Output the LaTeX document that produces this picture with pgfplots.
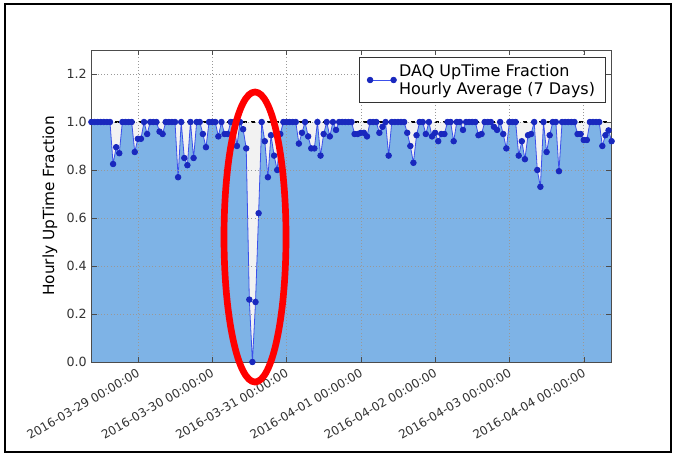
\documentclass[border=0pt]{standalone}
\usepackage{fontspec}
\setmainfont{DejaVu Sans}
\usepackage{pgfplots}
\pgfplotsset{compat=1.18}
\usepackage{pgfplotstable}

\definecolor{fillblue}{RGB}{126,179,230}
\definecolor{lineblue}{RGB}{60,80,235}
\definecolor{markblue}{RGB}{25,40,190}

% hours since 2016-03-28 09:00, hourly uptime fraction
\pgfplotstableread{
h v
0 1
1 1
2 1
3 1
4 1
5 1
6 1
7 0.825
8 0.895
9 0.87
10 1
11 1
12 1
13 1
14 0.875
15 0.93
16 0.93
17 1
18 0.95
19 1
20 1
21 1
22 0.96
23 0.95
24 1
25 1
26 1
27 1
28 0.77
29 1
30 0.85
31 0.82
32 1
33 0.85
34 1
35 1
36 0.95
37 0.895
38 1
39 1
40 1
41 0.94
42 1
43 0.95
44 0.95
45 1
46 1
47 0.9
48 1
49 0.97
50 0.89
51 0.26
52 0.0
53 0.25
54 0.62
55 1
56 0.92
57 0.77
58 0.945
59 0.86
60 0.80
61 0.95
62 1
63 1
64 1
65 1
66 1
67 0.91
68 0.955
69 1
70 0.94
71 0.89
72 0.89
73 1
74 0.86
75 0.95
76 1
77 0.94
78 1
79 0.967
80 1
81 1
82 1
83 1
84 1
85 0.95
86 0.95
87 0.955
88 0.955
89 0.94
90 1
91 1
92 1
93 0.955
94 0.98
95 1
96 0.86
97 1
98 1
99 1
100 1
101 1
102 0.955
103 0.90
104 0.83
105 0.945
106 1
107 1
108 0.95
109 1
110 0.94
111 0.955
112 0.92
113 0.95
114 0.95
115 1
116 1
117 0.92
118 1
119 1
120 0.967
121 1
122 1
123 1
124 1
125 0.945
126 0.95
127 1
128 1
129 1
130 0.98
131 0.967
132 1
133 0.95
134 0.89
135 1
136 1
137 1
138 0.86
139 0.92
140 0.845
141 0.945
142 0.95
143 1
144 0.80
145 0.73
146 1
147 0.875
148 0.945
149 1
150 1
151 0.795
152 1
153 1
154 1
155 1
156 1
157 0.95
158 0.95
159 0.925
160 0.925
161 1
162 1
163 1
164 1
165 0.90
166 0.945
167 0.965
168 0.92
}\uptime

\begin{document}
\begin{tikzpicture}
\useasboundingbox (0,0) rectangle (504.75pt,340.5pt);
\begin{axis}[
  at={(68.55pt,69pt)}, anchor=south west,
  width=390.15pt, height=234pt, scale only axis,
  xmin=0, xmax=168, ymin=0, ymax=1.3,
  xtick={15,39,63,87,111,135,159},
  xticklabels={2016-03-29 00:00:00,2016-03-30 00:00:00,2016-03-31 00:00:00,2016-04-01 00:00:00,2016-04-02 00:00:00,2016-04-03 00:00:00,2016-04-04 00:00:00},
  ytick={0,0.2,0.4,0.6,0.8,1.0,1.2},
  yticklabel style={/pgf/number format/fixed, /pgf/number format/fixed zerofill, /pgf/number format/precision=1},
  /pgf/number format/assume math mode=true,
  tick label style={font=\fontsize{9.5}{11}\selectfont, text=black!80},
  xticklabel style={rotate=30, anchor=north east, font=\fontsize{9}{11}\selectfont},
  ylabel={Hourly UpTime Fraction},
  ylabel style={font=\fontsize{11.5}{13}\selectfont},
  tick align=inside, major tick length=4pt,
  tick style={black!70},
  axis line style={black!70},
  grid=major, grid style={dotted, black!40},
  axis on top,
  legend style={at={(rel axis cs:1,1)}, anchor=north east, xshift=-4.2pt, yshift=-5.25pt,
    font=\fontsize{12}{13.5}\selectfont, cells={align=left}, draw=black!80,
    inner xsep=6pt, inner ysep=3pt},
  legend image code/.code={\draw[#1] plot coordinates {(0cm,0cm) (0.62cm,0cm)};},
]
\addplot[draw=none, fill=black!5, forget plot] coordinates {(0,1) (168,1)} \closedcycle;
\addplot[draw=none, fill=fillblue, forget plot] table {\uptime} \closedcycle;
\addplot[black, dashed, line width=1pt, dash pattern=on 3pt off 3pt, forget plot] coordinates {(0,1) (168,1)};
\addplot[lineblue, line width=0.6pt, mark=*, mark size=2.1pt, mark options={fill=markblue, draw=markblue}] table {\uptime};
\legend{DAQ UpTime Fraction\\Hourly Average (7 Days)}
\end{axis}
\begin{scope}[x=0.75pt, y=-0.75pt, shift={(0,340.5pt)}]
  \draw[line width=1.5pt] (5,4) rectangle (671,452);
  \draw[red, line width=5pt] (255,237) ellipse [x radius=31, y radius=145];
\end{scope}
\end{tikzpicture}
\end{document}
